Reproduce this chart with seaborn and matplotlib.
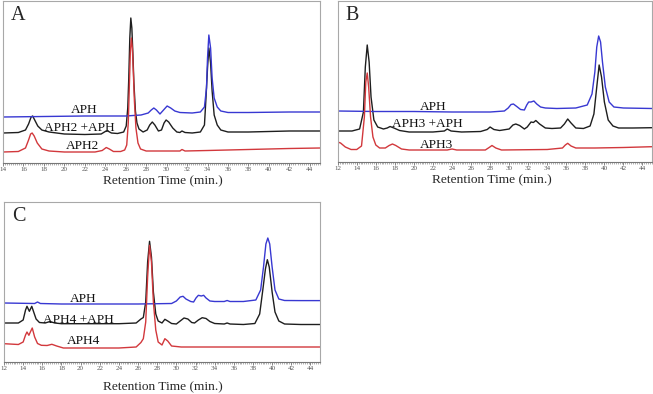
import matplotlib
matplotlib.use('Agg')
import matplotlib.pyplot as plt
import seaborn as sns
from matplotlib.ticker import MultipleLocator

sns.set_style('white')
plt.rcParams['font.family'] = ['Liberation Serif', 'DejaVu Serif']

# ---- panel A : APH2 ----
a_aph_t = [14, 18, 22, 26, 27.5, 28.2, 28.5, 28.75, 29.0, 29.35, 29.7, 30.05, 30.4, 30.8, 31.3, 32.5, 33.3,
           33.7, 33.9, 34.0, 34.13, 34.3, 34.45, 34.65, 34.95, 35.3, 36, 38, 42, 45]
a_aph_y = [46, 46.5, 47, 47, 48, 50, 53, 55, 53, 49, 53, 57, 55, 52, 50.5, 50, 51,
           56, 75, 105, 128, 115, 85, 65, 56, 52, 50.5, 50.5, 51, 51]
a_mix_t = [14, 15.5, 16.2, 16.5, 16.75, 16.9, 17.1, 17.4, 17.8, 18.5, 20, 22, 23.6, 24.0, 24.25, 24.6, 25.2,
           25.8, 26.05, 26.2, 26.3, 26.4, 26.5, 26.6, 26.7, 26.8, 26.95, 27.1, 27.3, 27.7, 28.1, 28.35,
           28.6, 28.85, 29.2, 29.5, 29.75, 29.95, 30.2, 30.6, 31.0, 31.3, 31.5, 31.8, 32.5, 33.3, 33.7,
           33.85, 34.0, 34.13, 34.3, 34.45, 34.65, 34.95, 35.3, 36, 38, 42, 45]
a_mix_y = [30, 30.5, 33, 39, 46, 47, 43, 37, 33, 31, 29, 28.5, 29, 31.5, 32, 30, 29.5,
           31, 37, 55, 85, 125, 145, 135, 110, 80, 52, 40, 34, 31, 33, 38,
           41, 38, 32, 33, 40, 43, 41, 35, 31, 30.5, 32, 30.5, 30, 31, 38,
           65, 95, 115, 100, 72, 48, 38, 33, 31, 31, 32, 32]
a_one_t = [14, 15.5, 16.2, 16.5, 16.7, 16.85, 17.05, 17.35, 17.8, 18.5, 20, 23, 23.7, 24.1, 24.4, 24.8,
           25.5, 25.9, 26.1, 26.25, 26.35, 26.45, 26.55, 26.65, 26.75, 26.85, 27.0, 27.2, 27.45, 28, 30,
           31.3, 31.5, 31.8, 34, 38, 42, 45]
a_one_y = [11, 11.5, 15, 23, 29, 30, 27, 20, 14, 12, 11, 11, 12.5, 15.5, 14, 11.5,
           11.5, 13, 18, 40, 75, 110, 125, 115, 90, 62, 35, 20, 14, 12, 12,
           12, 13.5, 12, 12.5, 13.5, 14.5, 15]

# ---- panel B : APH3 ----
b_aph_t = [12, 16, 20, 24, 28, 29.5, 29.9, 30.2, 30.45, 30.8, 31.2, 31.6, 31.85, 32.05, 32.3, 32.6, 32.9,
           33.3, 33.8, 35, 37, 38.2, 38.7, 39.0, 39.2, 39.4, 39.6, 39.8, 40.1, 40.5, 41, 42, 45]
b_aph_y = [51, 50.5, 50.5, 50, 50, 51, 54, 57.5, 58, 55.5, 52.5, 52, 57, 60, 60, 61, 58,
           55, 54, 53.5, 54, 57, 68, 90, 115, 126, 120, 100, 75, 60, 55, 54, 53.5]
b_mix_t = [12, 13.5, 14.3, 14.7, 14.9, 15.1, 15.3, 15.5, 15.8, 16.2, 16.8, 17.2, 17.5, 17.9, 18.5, 19.5,
           22, 23.2, 23.5, 23.9, 25, 27, 27.7, 28.0, 28.4, 29, 30, 30.4, 30.7, 31.1, 31.6, 31.9, 32.3,
           32.55, 32.8, 33.2, 33.8, 34.5, 35.4, 35.8, 36.15, 36.5, 37, 37.8, 38.5, 38.9, 39.2, 39.45,
           39.7, 40.0, 40.4, 40.9, 41.5, 43, 45]
b_mix_y = [31, 31, 33, 50, 95, 117, 100, 65, 42, 35, 33, 34, 35.5, 34, 31.5, 30,
           30, 31, 33, 31, 30, 30.5, 32.5, 35, 32.5, 31.5, 33, 37, 38, 36.5, 33, 35, 40,
           39.5, 41.5, 38, 34, 33.5, 34, 38, 43, 39, 34, 33.5, 36, 48, 75, 97,
           85, 60, 42, 36, 34, 34, 34.3]
b_one_t = [12, 12.3, 12.8, 13.4, 14.0, 14.5, 14.8, 14.95, 15.1, 15.25, 15.45, 15.7, 16.0, 16.4, 17.0,
           17.4, 17.75, 18.1, 18.7, 19.5, 23.5, 24.0, 24.5, 27.5, 27.9, 28.2, 28.6, 29.2, 34, 35.6,
           35.9, 36.15, 36.5, 37, 39, 42, 45]
b_one_y = [20, 19, 15, 12.5, 12.5, 16, 45, 80, 89, 75, 45, 25, 17, 14, 14,
           16.5, 18, 16.5, 13, 12, 12, 13, 12, 12, 14.5, 16.5, 14, 12, 12.5, 14,
           17, 18.7, 16, 14, 14, 14.5, 15.3]

# ---- panel C : APH4 ----
c_aph_t = [12, 15.2, 15.5, 15.8, 18, 22, 26, 29.5, 30.0, 30.4, 30.7, 31.0, 31.5, 31.8, 32.05, 32.3, 32.6,
           32.85, 33.1, 33.5, 34, 35.0, 35.3, 35.6, 37, 38.3, 38.8, 39.1, 39.35, 39.55, 39.75, 40.0,
           40.3, 40.7, 41.3, 43, 45]
c_aph_y = [59, 58.5, 60, 58.5, 58, 58, 58, 58.5, 61, 65, 65.7, 63, 60.5, 60, 64, 66.7, 66,
           66.7, 64, 61, 60.5, 60.5, 61.5, 60.5, 60.5, 62, 72, 95, 118, 124, 118, 95,
           72, 63, 61.5, 61.4, 61.4]
c_mix_t = [12, 13.5, 14.0, 14.25, 14.4, 14.65, 14.9, 15.1, 15.35, 15.7, 16.3, 16.8, 17.3, 18, 20, 24,
           25.8, 26.3, 26.55, 26.8, 27.0, 27.2, 27.4, 27.6, 27.85, 28.1, 28.5, 28.8, 29.1, 29.5, 30.0,
           30.4, 30.8, 31.2, 31.6, 31.9, 32.3, 32.7, 33.1, 33.5, 34.0, 35.0, 35.3, 35.6, 37, 38.2,
           38.7, 39.0, 39.3, 39.5, 39.7, 40.0, 40.3, 40.7, 41.3, 43, 45]
c_mix_y = [39, 39, 42, 52, 55.7, 50.7, 55.7, 50, 43, 39.5, 39, 40.5, 39, 38.3, 38.3, 38.3,
           39, 43, 44.5, 60, 100, 120.7, 105, 70, 48, 41, 39, 42.7, 41, 38.5, 38,
           41, 44, 43, 39.5, 39, 42, 44.3, 43.5, 40.5, 38.5, 38, 39, 38, 37.5, 38.5,
           48, 70, 93, 102.3, 95, 70, 50, 41, 38, 37.5, 37.5]
c_one_t = [12, 13.5, 14.0, 14.25, 14.4, 14.6, 14.75, 14.95, 15.2, 15.5, 15.9, 16.5, 17.0, 17.5, 18.2,
           20, 24, 25.8, 26.3, 26.55, 26.8, 27.0, 27.2, 27.4, 27.6, 27.85, 28.1, 28.5, 28.8, 29.1,
           29.5, 30.5, 35, 40, 45]
c_one_y = [18.3, 17.5, 20, 27, 30, 26.7, 30, 34, 25, 18.5, 16.7, 16.5, 17.7, 16, 14,
           14, 14, 15, 19.5, 23.3, 40, 85, 116.7, 100, 60, 32, 20, 17, 23.3, 21,
           16, 15, 15, 15, 15]

blue, black, red = '#3838d2', '#1e1e1e', '#d2383c'

fig = plt.figure(figsize=(6.53, 3.94), dpi=100)


def draw_panel(rect, xmin, ymax, traces, labels, letter, label_pos):
    ax = fig.add_axes(rect)
    for t, y, c in traces:
        sns.lineplot(x=t, y=y, color=c, lw=1.0, ax=ax, sort=False, estimator=None)
    for txt, x, y in labels:
        ax.text(x, y, txt, ha='center', va='baseline', fontsize=9.6, color='#111111')
    ax.text(0.026, 0.88, letter, transform=ax.transAxes, fontsize=14.5, va='baseline', ha='left')
    ax.set_xlim(xmin, 45)
    ax.set_ylim(0, ymax)
    ax.set_yticks([])
    ax.set_ylabel('')
    ax.xaxis.set_minor_locator(MultipleLocator(0.2))
    ax.set_xticks(range(xmin, 45, 2))
    ax.tick_params(axis='x', which='major', length=2, width=0.5, colors='#555555',
                   labelsize=5, pad=1, direction='out', bottom=True)
    ax.tick_params(axis='x', which='minor', length=1.2, width=0.4, colors='#777777',
                   direction='out', bottom=True)
    for s in ax.spines.values():
        s.set_color('#a8a8a8')
        s.set_linewidth(0.8)
    ax.spines['bottom'].set_color('#777777')
    ax.set_xlabel('Retention Time (min.)', fontsize=9.6)
    ax.xaxis.set_label_coords(label_pos[0], label_pos[1])
    return ax


draw_panel([3 / 653, 1 - 163 / 394, 317 / 653, 162 / 394], 14, 162,
           [(a_mix_t, a_mix_y, black), (a_aph_t, a_aph_y, blue), (a_one_t, a_one_y, red)],
           [('APH', 21.9, 49.7), ('APH2 +APH', 21.5, 32.3), ('APH2', 21.8, 13.7)],
           'A', (0.505, -0.074))

draw_panel([337.7 / 653, 1 - 162 / 394, 314.3 / 653, 161 / 394], 12, 161,
           [(b_mix_t, b_mix_y, black), (b_aph_t, b_aph_y, blue), (b_one_t, b_one_y, red)],
           [('APH', 22.0, 52), ('APH3 +APH', 21.4, 35.3), ('APH3', 22.35, 13.7)],
           'B', (0.49, -0.075))

draw_panel([4 / 653, 1 - 362 / 394, 316 / 653, 160 / 394], 12, 160,
           [(c_mix_t, c_mix_y, black), (c_aph_t, c_aph_y, blue), (c_one_t, c_one_y, red)],
           [('APH', 20.25, 60), ('APH4 +APH', 19.8, 39.4), ('APH4', 20.35, 18.4)],
           'C', (0.503, -0.119))

fig.savefig('out.png', dpi=100)
